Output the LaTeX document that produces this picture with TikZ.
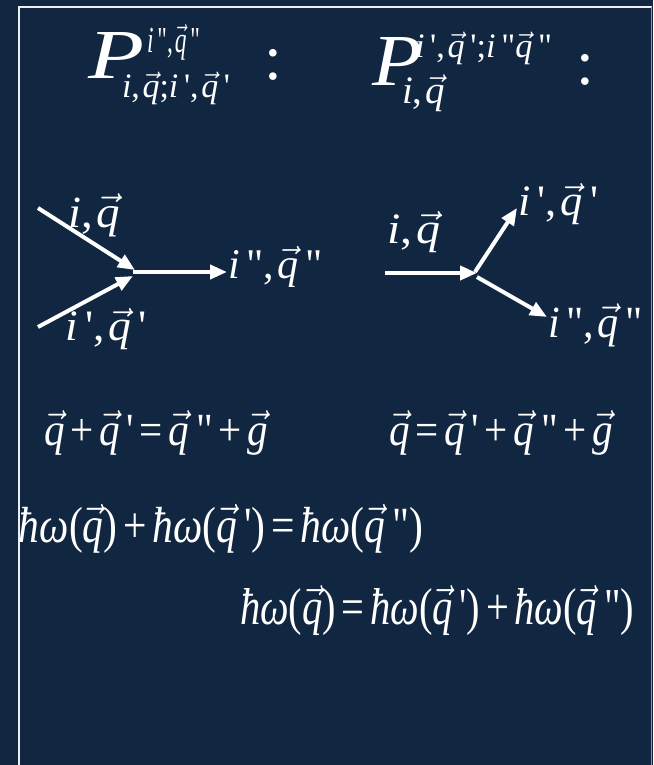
\documentclass[tikz,border=0pt]{standalone}
\usepackage{amsmath}
\usepackage{graphicx}
\usepackage{fontspec}
\newfontfamily\tnr{Liberation Serif}
\usetikzlibrary{arrows.meta}
\definecolor{bg}{RGB}{17,38,64}
\definecolor{frm}{RGB}{236,238,242}
\definecolor{frmr}{RGB}{140,150,165}
\newcommand\qv{\smash[t]{\vec{\text{\tnr\itshape q}}}}
\newcommand\gv{\smash[t]{\vec{\text{\tnr\itshape g}}}}
\newcommand\mi{\text{\tnr\itshape i}}
\newcommand\hb{\text{\tnr\itshape ħ}}
\newcommand\om{\text{\tnr\itshape ω}}
\newcommand\pr{\text{\tnr\upshape\,'}}
\newcommand\dpr{\text{\tnr\upshape\,"}}
\newcommand\cm{\text{\tnr\upshape ,\hspace{0.08em}}}
\newcommand\sm{\text{\tnr\upshape ;}}
\newcommand\pl{\text{\tnr\hspace{0.14em}+\hspace{0.14em}}}
\newcommand\eq{\text{\tnr\hspace{0.14em}=\hspace{0.14em}}}
\newcommand\lp{\text{\tnr (}}
\newcommand\rp{\text{\tnr )}}
\newcommand\fb[3]{\resizebox*{#1pt}{#2pt}{#3}}
\tikzset{
  lbl/.style={inner sep=0pt, outer sep=0pt, anchor=north west, text=white},
  colon/.style={inner sep=0pt, outer sep=0pt, text=white, font=\tnr\fontsize{64}{64}\selectfont},
  arr/.style={draw=white, line width=4pt, -{Triangle[length=17pt,width=14pt]}}
}
\begin{document}
\begin{tikzpicture}[x=1pt,y=-1pt]
\fill[bg] (0,0) rectangle (653,765);
\useasboundingbox (0,0) rectangle (653,765);
% frame
\draw[frm, line width=2pt] (19,765) -- (19,6.8) -- (651.5,6.8);
\draw[frmr, line width=1pt] (651.8,6.8) -- (651.8,765);
% titles
\node[lbl] (P1) at (88,32) {\fb{56}{46}{\tnr\itshape P}};
\node[lbl] (sup1) at (147,28) {\fb{53}{32}{$\mi\dpr\cm\qv\dpr$}};
\node[lbl] (sub1) at (122,75) {\fb{108}{30}{$\mi\cm\qv\sm\mi\pr\cm\qv\pr$}};
\node[colon] (col1) at (273,64.5) {:};
\node[lbl] (P2) at (372,37) {\fb{50}{48}{\tnr\itshape P}};
\node[lbl] (sup2) at (415,35) {\fb{137}{30}{$\mi\pr\cm\qv\pr\sm\mi\dpr\qv\dpr$}};
\node[lbl] (sub2) at (402,78) {\fb{43}{34}{$\mi\cm\qv$}};
\node[colon] (col2) at (585,70) {:};
% left diagram
\coordinate (a1s) at (38,208);
\coordinate (t1) at (135,270);
\coordinate (a2s) at (38,327);
\coordinate (t2) at (133,276);
\coordinate (v1) at (133,272);
\coordinate (t3) at (227,272);
\draw[arr] (a1s) -- (t1);
\draw[arr] (a2s) -- (t2);
\draw[arr] (v1) -- (t3);
\node[lbl] (L1) at (68,198) {\fb{52}{39}{$\mi\cm\qv$}};
\node[lbl] (L2) at (228,250) {\fb{95}{37}{$\mi\dpr\cm\qv\dpr$}};
\node[lbl] (L3) at (65,312) {\fb{82}{38}{$\mi\pr\cm\qv\pr$}};
% right diagram
\coordinate (b0) at (385,273);
\coordinate (t4) at (477,273);
\coordinate (v2) at (475,272);
\coordinate (t5) at (517,208);
\coordinate (v3) at (477,277);
\coordinate (t6) at (547,317);
\draw[arr] (b0) -- (t4);
\draw[arr] (v2) -- (t5);
\draw[arr] (v3) -- (t6);
\node[lbl] (R1) at (387,215) {\fb{53}{38}{$\mi\cm\qv$}};
\node[lbl] (R2) at (518,187) {\fb{80}{38}{$\mi\pr\cm\qv\pr$}};
\node[lbl] (R3) at (548,308) {\fb{95}{39}{$\mi\dpr\cm\qv\dpr$}};
% equations
\node[lbl] (E1) at (44,415) {\fb{224}{40}{$\qv\pl\qv\pr\eq\qv\dpr\pl\gv$}};
\node[lbl] (E2) at (389,415) {\fb{224}{40}{$\qv\eq\qv\pr\pl\qv\dpr\pl\gv$}};
\node[lbl] (E3) at (19,507) {\fb{404}{46}{$\hb\om\lp\qv\rp\pl\hb\om\lp\qv\pr\rp\eq\hb\om\lp\qv\dpr\rp$}};
\node[lbl] (E4) at (240,589) {\fb{394}{47}{$\hb\om\lp\qv\rp\eq\hb\om\lp\qv\pr\rp\pl\hb\om\lp\qv\dpr\rp$}};
\end{tikzpicture}
\end{document}
